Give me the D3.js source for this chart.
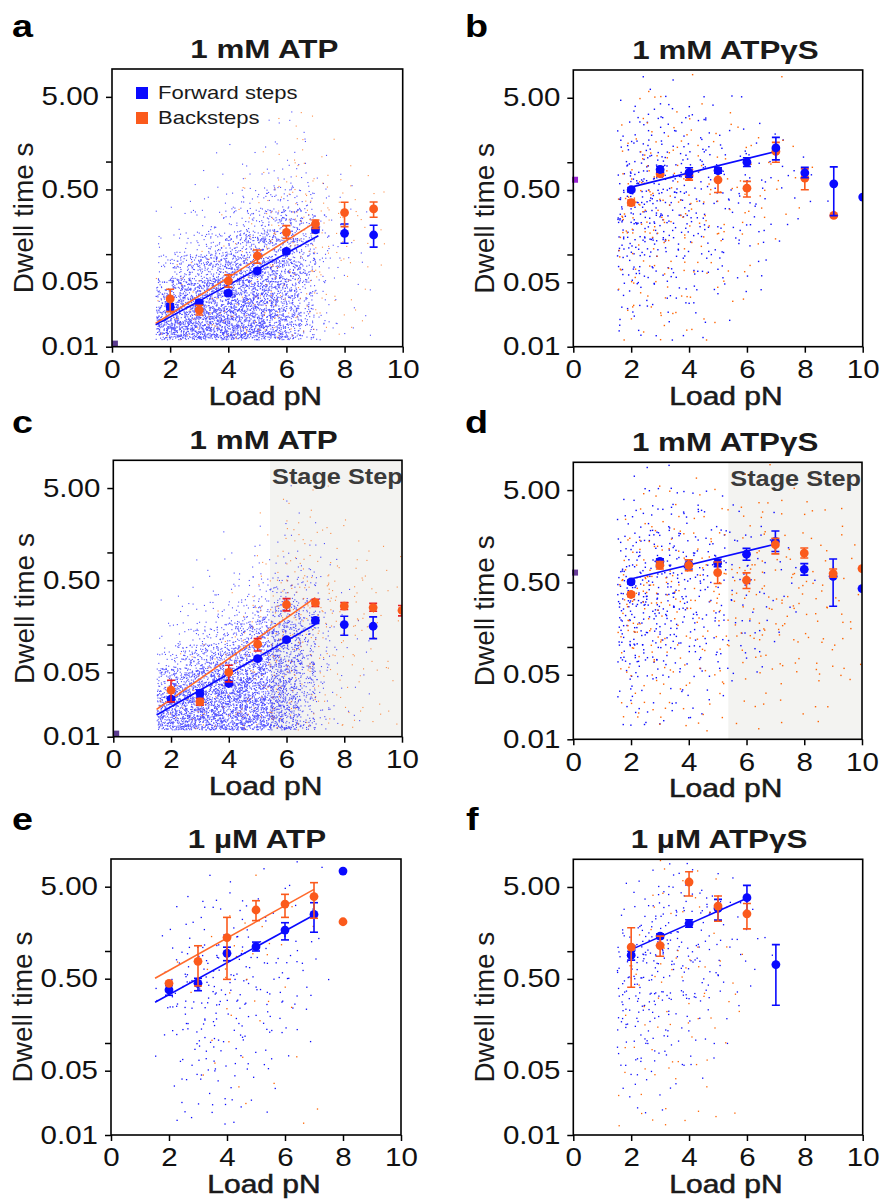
<!DOCTYPE html>
<html><head><meta charset="utf-8">
<script src="https://cdn.jsdelivr.net/npm/d3@7"></script>
<style>
body{margin:0;background:#fff;}
svg{display:block;}
text{font-family:"Liberation Sans",Arial,Helvetica,sans-serif;}
</style></head><body>
<svg id="chart" width="880" height="1199"></svg>
<script>
// ---------------- DATA ----------------
const xTicks = [0, 2, 4, 6, 8, 10];
const yTicks = [0.01, 0.05, 0.1, 0.5, 1, 5];
const yTickLabels = ["0.01", "0.05", "", "0.50", "", "5.00"];
const panelTitles = ["1 mM ATP", "1 mM ATPγS", "1 mM ATP", "1 mM ATPγS", "1 µM ATP", "1 µM ATPγS"];
const seriesNames = ["Forward steps", "Backsteps"];

// density-grid bins used for the raw dwell-time clouds (counts per bin)
const binX = [1.5, 2, 2.5, 3, 3.5, 4, 4.5, 5, 5.5, 6, 6.5, 7, 7.5, 8, 8.5, 9, 9.5, 10];
const binY = [0.012, 0.018, 0.032, 0.056, 0.1, 0.18, 0.32, 0.56, 1, 1.8, 3.2, 5.6, 10];

// ---- panel a : 1 mM ATP
const aLoad = [2, 3, 4, 5, 6, 7, 8, 9];
const aFwd = [0.027, 0.030, 0.038, 0.066, 0.107, 0.183, 0.168, 0.161];
const aFwdLo = [0.025, 0.028, 0.036, 0.062, 0.102, 0.172, 0.131, 0.119];
const aFwdHi = [0.029, 0.032, 0.040, 0.070, 0.112, 0.195, 0.212, 0.205];
const aBack = [0.0328, 0.0249, 0.0513, 0.0957, 0.172, 0.212, 0.281, 0.308];
const aBackLo = [0.0239, 0.022, 0.044, 0.0796, 0.148, 0.19, 0.198, 0.25];
const aBackHi = [0.0417, 0.028, 0.0597, 0.111, 0.203, 0.234, 0.363, 0.366];
const aFitFwd = [[1.5, 0.0172], [7.1, 0.158]];
const aFitBack = [[1.5, 0.0178], [7.1, 0.232]];
const aCloudFwd = [
  [85,105,105,105,105,105,98,90,76,48,20,5,2,1,1,0,0],
  [105,135,135,135,135,135,126,118,98,62,28,7,2,1,1,0,0],
  [55,90,98,105,112,112,112,105,90,62,30,7,2,1,1,0,0],
  [13,34,48,62,76,84,90,90,84,66,36,8,3,1,1,0,0],
  [4,8,12,19,30,44,58,66,72,58,34,8,2,1,1,0,0],
  [1,2,4,5,8,13,20,30,40,38,22,6,2,1,1,0,0],
  [0,1,1,2,3,5,7,11,15,15,10,3,1,1,0,0,0],
  [0,0,1,1,1,2,2,3,4,5,4,2,1,0,0,0,0],
  [0,0,0,0,1,1,1,1,2,2,2,1,0,0,0,0,0],
  [0,0,0,0,0,0,0,1,1,1,1,0,0,0,0,0,0],
  [0,0,0,0,0,0,0,0,0,1,0,0,0,0,0,0,0],
  [0,0,0,0,0,0,0,0,0,0,0,0,0,0,0,0,0]];
const aCloudBack = [
  [2,2,2,2,3,3,3,3,3,2,2,1,1,1,0,0,0],
  [2,3,3,3,3,3,4,4,4,3,3,2,1,1,1,0,0],
  [1,2,2,2,2,3,3,4,4,4,3,2,2,1,1,0,0],
  [0,1,1,1,2,2,3,4,5,5,4,3,2,2,1,1,0],
  [0,0,0,1,1,2,3,4,5,6,5,4,3,2,1,1,0],
  [0,0,0,0,1,1,2,3,4,6,6,4,3,2,2,1,0],
  [0,0,0,0,0,1,1,2,3,4,4,3,2,2,1,1,0],
  [0,0,0,0,0,0,1,1,2,3,3,2,1,1,1,0,0],
  [0,0,0,0,0,0,0,1,1,2,2,1,1,0,0,0,0],
  [0,0,0,0,0,0,0,0,1,1,1,0,0,0,0,0,0],
  [0,0,0,0,0,0,0,0,0,1,0,0,0,0,0,0,0],
  [0,0,0,0,0,0,0,0,0,0,0,0,0,0,0,0,0]];

// ---- panel b : 1 mM ATPγS
const bLoadFwd = [2, 3, 4, 5, 6, 7, 8, 9, 10];
const bFwd = [0.503, 0.834, 0.774, 0.813, 1.0, 1.43, 0.768, 0.584, 0.419];
const bFwdLo = [0.48, 0.78, 0.69, 0.76, 0.9, 1.06, 0.68, 0.264, 0.419];
const bFwdHi = [0.53, 0.9, 0.87, 0.87, 1.12, 1.86, 0.88, 0.89, 0.419];
const bLoadBack = [2, 3, 4, 5, 6, 7, 8, 9];
const bBack = [0.364, 0.75, 0.718, 0.645, 0.523, 1.31, 0.671, 0.265];
const bBackLo = [0.34, 0.7, 0.64, 0.47, 0.42, 1.0, 0.503, 0.265];
const bBackHi = [0.39, 0.8, 0.8, 0.85, 0.62, 1.64, 0.848, 0.265];
const bFitFwd = [[2, 0.537], [7, 1.31]];
const bCloudFwd = [
  [2,2,1,1,1,1,0,0,0,0,0,0,0,0,0,0,0],
  [3,3,2,2,2,2,1,1,0,0,0,0,0,0,0,0,0],
  [4,4,3,3,3,2,2,1,1,1,0,0,0,0,0,0,0],
  [8,8,6,5,4,4,3,3,2,2,1,0,0,0,0,0,0],
  [12,12,10,8,6,5,4,3,3,2,1,1,0,0,0,0,0],
  [14,14,12,10,8,6,5,4,3,2,2,1,1,0,0,0,0],
  [12,14,12,10,8,6,5,4,3,3,2,1,1,1,1,0,0],
  [10,12,10,9,7,6,5,4,3,3,2,2,1,1,0,0,0],
  [6,8,8,7,6,5,4,3,3,2,1,1,1,0,0,0,0],
  [3,4,5,5,4,3,3,2,1,1,1,0,0,0,0,0,0],
  [1,2,3,3,2,2,1,1,1,0,0,0,0,0,0,0,0],
  [0,1,1,1,0,0,0,0,0,0,0,0,0,0,0,0,0]];
const bCloudBack = [
  [1,1,1,1,1,1,1,0,0,0,0,0,0,0,0,0,0],
  [2,2,2,2,1,1,1,1,0,0,0,0,0,0,0,0,0],
  [2,2,2,2,2,1,1,1,1,0,0,0,0,0,0,0,0],
  [3,3,3,3,2,2,2,1,1,1,0,0,0,0,0,0,0],
  [4,4,4,3,3,3,2,2,1,1,1,0,0,0,0,0,0],
  [5,5,4,4,3,3,3,2,2,1,1,1,0,0,0,0,0],
  [4,5,5,4,3,3,3,2,2,2,1,1,1,0,0,0,0],
  [3,4,4,3,3,3,2,2,2,1,1,1,1,1,0,0,0],
  [2,3,3,3,2,2,2,1,1,1,1,1,1,0,0,0,0],
  [1,2,2,2,2,1,1,1,1,1,0,0,0,0,0,0,0],
  [0,1,1,1,1,1,0,1,0,0,0,0,0,0,0,0,0],
  [0,0,1,0,0,1,0,0,0,0,0,1,0,0,0,0,0]];

// ---- panel c : 1 mM ATP (stage step)
const cLoadFwd = [2, 3, 4, 5, 6, 7, 8, 9];
const cFwd = [0.0256, 0.0295, 0.0378, 0.0705, 0.113, 0.183, 0.165, 0.158];
const cFwdLo = [0.024, 0.027, 0.036, 0.067, 0.108, 0.17, 0.126, 0.116];
const cFwdHi = [0.027, 0.032, 0.040, 0.074, 0.118, 0.197, 0.203, 0.2];
const cLoadBack = [2, 3, 4, 5, 6, 7, 8, 9, 10];
const cBack = [0.032, 0.0239, 0.0498, 0.101, 0.271, 0.283, 0.262, 0.252, 0.235];
const cBackLo = [0.0239, 0.022, 0.0394, 0.0853, 0.232, 0.26, 0.24, 0.23, 0.205];
const cBackHi = [0.041, 0.026, 0.0597, 0.116, 0.315, 0.31, 0.285, 0.28, 0.265];
const cFitFwd = [[1.5, 0.0172], [7, 0.166]];
const cFitBack = [[1.5, 0.0198], [7, 0.323]];
const cStage = 5.43;
const cCloudFwd = [
  [82,102,105,105,105,105,100,92,78,52,24,6,2,1,1,0,0],
  [100,130,135,135,135,135,126,120,100,66,30,8,2,1,1,0,0],
  [52,88,98,105,112,112,112,106,92,64,32,8,2,1,1,0,0],
  [12,30,48,62,76,84,90,92,84,70,38,9,3,1,1,0,0],
  [4,8,12,19,30,44,58,66,72,60,36,9,2,1,1,0,0],
  [1,2,4,5,8,13,20,30,40,38,22,6,2,1,1,0,0],
  [0,1,1,2,3,5,7,11,15,15,10,3,1,1,0,0,0],
  [0,0,1,1,1,2,2,3,4,5,4,2,1,0,0,0,0],
  [0,0,0,0,1,1,1,1,2,2,2,1,0,0,0,0,0],
  [0,0,0,0,0,0,0,1,1,1,1,0,0,0,0,0,0],
  [0,0,0,0,0,0,0,0,1,1,0,0,0,0,0,0,0],
  [0,0,0,0,0,0,0,0,0,0,0,0,0,0,0,0,0]];
const cCloudBack = [
  [1,1,2,2,2,3,3,3,3,3,3,2,2,2,1,1,1],
  [2,2,2,3,3,3,4,4,4,4,3,3,2,2,2,1,1],
  [1,2,2,2,3,3,4,4,5,5,4,3,3,2,2,1,1],
  [0,1,1,1,2,3,4,5,6,6,5,4,3,3,2,2,1],
  [0,0,0,1,1,2,3,5,6,7,6,5,4,3,3,2,1],
  [0,0,0,0,1,1,2,4,6,7,7,6,5,4,3,2,1],
  [0,0,0,0,0,1,1,3,5,6,6,5,4,3,3,2,1],
  [0,0,0,0,0,0,1,2,3,4,4,3,3,2,2,1,1],
  [0,0,0,0,0,0,0,1,2,3,3,2,2,1,1,1,0],
  [0,0,0,0,0,0,0,1,1,2,2,1,1,1,0,0,0],
  [0,0,0,0,0,0,0,0,1,1,1,1,0,0,0,0,0],
  [0,0,0,0,0,0,0,0,0,0,0,0,0,0,0,0,0]];

// ---- panel d : 1 mM ATPγS (stage step)
const dLoad = [2, 3, 4, 5, 6, 7, 8, 9, 10];
const dFwd = [0.507, 0.847, 0.786, 0.813, 1.01, 1.39, 0.694, 0.583, 0.429];
const dFwdLo = [0.48, 0.79, 0.7, 0.74, 0.87, 1.08, 0.6, 0.276, 0.429];
const dFwdHi = [0.53, 0.9, 0.88, 0.89, 1.17, 1.8, 0.8, 0.898, 0.429];
const dBack = [0.37, 0.767, 0.767, 0.639, 0.528, 1.28, 1.04, 0.623, 0.706];
const dBackLo = [0.35, 0.7, 0.67, 0.486, 0.429, 1.02, 0.92, 0.57, 0.706];
const dBackHi = [0.39, 0.84, 0.88, 0.833, 0.634, 1.5, 1.18, 0.7, 0.706];
const dFitFwd = [[1.95, 0.541], [6.95, 1.29]];
const dStage = 5.37;
const dCloudFwd = [
  [2,2,1,1,1,1,0,0,0,0,0,0,0,0,0,0,0],
  [3,3,2,2,2,2,1,1,0,0,0,0,0,0,0,0,0],
  [4,4,3,3,3,2,2,1,1,1,0,0,0,0,0,0,0],
  [8,8,6,5,4,4,3,3,2,2,1,0,0,0,0,0,0],
  [12,12,10,8,6,5,4,3,3,2,1,1,0,0,0,0,0],
  [14,14,12,10,8,6,5,4,3,2,2,1,1,0,0,0,0],
  [12,14,12,10,8,6,5,4,3,3,2,1,1,1,0,0,0],
  [10,12,10,9,7,6,5,4,3,3,2,2,1,0,0,0,0],
  [6,8,8,7,6,5,4,3,3,2,1,1,0,0,0,0,0],
  [3,4,5,5,4,3,3,2,1,1,1,0,0,0,0,0,0],
  [1,2,3,3,2,2,1,1,1,0,0,0,0,0,0,0,0],
  [0,1,1,1,0,0,0,0,0,0,0,0,0,0,0,0,0]];
const dCloudBack = [
  [1,1,1,1,1,1,1,1,1,1,0,1,0,1,0,0,0],
  [2,2,2,2,1,1,1,1,1,1,1,1,1,1,1,0,0],
  [2,2,2,2,2,1,1,2,1,1,1,1,1,1,1,1,1],
  [3,3,3,3,2,2,2,2,2,2,2,2,2,2,2,1,1],
  [4,4,4,3,3,3,2,3,3,3,3,3,2,2,2,2,1],
  [5,5,4,4,3,3,3,3,3,3,3,3,3,3,2,2,1],
  [4,5,5,4,3,3,3,3,3,3,3,3,3,3,2,2,1],
  [3,4,4,3,3,3,2,3,3,3,3,3,3,2,2,2,1],
  [2,3,3,3,2,2,2,2,2,2,2,2,2,2,2,1,1],
  [1,2,2,2,2,1,1,1,1,2,2,1,1,1,1,1,0],
  [0,1,1,1,1,1,1,1,1,1,1,1,1,1,0,1,0],
  [0,0,1,0,0,1,0,0,1,0,1,0,0,1,0,0,0]];

// ---- panel e : 1 µM ATP
const eLoad = [2, 3, 4, 5, 6, 7, 8];
const eFwd = [0.377, 0.445, 0.944, 1.115, 1.69, 2.5, 7.4];
const eFwdLo = [0.33, 0.37, 0.785, 1.0, 1.32, 1.6, 7.4];
const eFwdHi = [0.42, 0.505, 1.1, 1.25, 2.03, 3.35, 7.4];
const eBack = [0.445, 0.772, 1.4, 2.79, 3.24, 3.9, 2.08];
const eBackLo = [0.445, 0.417, 0.492, 2.14, 2.32, 2.27, 2.08];
const eBackHi = [0.445, 1.14, 2.32, 3.52, 4.13, 5.53, 2.08];
const eFitFwd = [[1.52, 0.277], [7, 2.46]];
const eFitBack = [[1.52, 0.505], [7, 4.68]];
const eCloudFwd = [
  [0,1,1,1,1,1,0,0,0,0,0,0,0,0,0,0,0],
  [0,1,2,2,2,2,1,1,0,0,0,0,0,0,0,0,0],
  [0,2,2,3,3,2,2,1,1,0,0,0,0,0,0,0,0],
  [1,2,3,4,4,3,2,2,1,1,0,0,0,0,0,0,0],
  [1,3,4,5,5,4,3,3,2,2,1,0,0,0,0,0,0],
  [2,4,5,6,6,5,4,3,3,2,1,0,0,0,0,0,0],
  [2,4,5,6,6,5,5,4,3,3,2,1,0,0,0,0,0],
  [1,3,4,5,5,4,4,3,3,3,2,1,0,0,0,0,0],
  [1,2,3,3,3,3,3,2,2,2,1,1,0,0,0,0,0],
  [0,1,2,2,2,2,2,2,1,1,1,0,0,0,0,0,0],
  [0,0,1,1,1,1,1,1,1,1,0,0,0,0,0,0,0],
  [0,0,0,1,0,1,0,1,0,1,0,1,0,0,0,0,0]];
const eCloudBack = [
  [0,0,0,0,0,0,0,0,0,0,1,0,0,0,0,0,0],
  [0,0,0,0,0,0,1,0,0,0,0,1,0,0,0,0,0],
  [0,0,0,1,0,1,0,0,1,0,0,0,0,0,0,0,0],
  [0,0,0,0,1,0,1,0,0,1,0,0,0,0,0,0,0],
  [0,0,0,1,0,1,0,1,0,0,0,0,0,0,0,0,0],
  [0,0,0,0,1,1,1,1,0,1,0,0,0,0,0,0,0],
  [0,0,1,0,1,1,1,0,1,0,0,0,0,0,0,0,0],
  [0,1,0,1,1,1,1,1,0,0,0,0,0,0,0,0,0],
  [0,0,0,1,0,1,1,1,1,0,0,0,0,0,0,0,0],
  [0,0,0,0,0,1,1,1,0,1,1,0,0,0,0,0,0],
  [0,0,0,0,0,0,0,0,0,0,0,0,0,0,0,0,0],
  [0,0,0,0,0,0,1,0,0,0,0,0,0,0,0,0,0]];

// ---- panel f : 1 µM ATPγS
const fLoadFwd = [2, 3, 4, 5, 6, 7];
const fFwd = [0.904, 1.46, 2.0, 2.92, 3.82, 0.716];
const fFwdLo = [0.8, 1.38, 1.82, 2.18, 2.62, 0.258];
const fFwdHi = [1.0, 1.55, 2.2, 3.66, 5.2, 1.18];
const fLoadBack = [2, 3, 4, 5, 6];
const fBack = [1.11, 1.15, 5.66, 3.1, 2.55];
const fBackLo = [0.405, 0.88, 3.98, 2.12, 1.75];
const fBackHi = [1.8, 1.46, 7.33, 3.98, 3.31];
const fFitFwd = [[2, 1.04], [6, 3.76]];
const fCloudFwd = [
  [0,1,0,0,0,0,0,0,0,0,0,0,0,0,0,0,0],
  [1,1,1,1,0,0,0,0,0,0,0,0,0,0,0,0,0],
  [2,2,2,1,1,1,0,0,0,0,0,0,0,0,0,0,0],
  [4,4,3,3,2,2,1,0,0,0,0,0,0,0,0,0,0],
  [6,6,5,4,3,2,2,1,0,0,0,0,0,0,0,0,0],
  [8,8,7,5,4,3,2,1,1,0,0,0,0,0,0,0,0],
  [10,10,8,6,5,4,3,2,1,1,0,0,0,0,0,0,0],
  [8,10,9,7,6,5,3,2,2,1,1,0,0,0,0,0,0],
  [5,8,8,8,7,5,4,3,2,1,1,0,0,0,0,0,0],
  [2,5,6,6,6,5,4,3,2,1,0,0,0,0,0,0,0],
  [1,2,3,4,4,3,3,2,1,0,0,0,0,0,0,0,0],
  [0,1,1,2,2,1,1,1,0,0,0,0,0,0,0,0,0]];
const fCloudBack = [
  [1,1,1,1,1,0,1,0,1,0,0,0,0,0,0,0,0],
  [1,1,0,1,0,1,0,0,0,0,0,0,0,0,0,0,0],
  [1,1,1,1,1,0,1,0,0,0,0,0,0,0,0,0,0],
  [1,1,1,1,1,1,1,0,0,0,0,0,0,0,0,0,0],
  [0,1,1,1,1,1,1,1,0,0,0,0,0,0,0,0,0],
  [1,1,1,1,1,1,1,1,1,0,0,0,0,0,0,0,0],
  [0,1,1,1,1,1,1,1,1,0,0,0,0,0,0,0,0],
  [1,1,1,1,2,2,1,1,1,0,0,0,0,0,0,0,0],
  [0,1,1,1,1,1,1,1,0,0,0,0,0,0,0,0,0],
  [0,0,1,1,1,1,1,0,0,0,0,0,0,0,0,0,0],
  [0,0,1,1,1,1,1,0,0,0,0,0,0,0,0,0,0],
  [0,0,1,1,1,1,1,0,0,0,0,0,0,0,0,0,0]];

// stray calibration marks near load 0
const markA = [0.1, 0.0108];
const markB = [0.06, 0.646];
const markC = [0.1, 0.0108];
const markD = [0.06, 0.639];

// ---------------- STYLE / LAYOUT ----------------
const BLUE = "#0a0aff", ORANGE = "#fb5a1c", ORANGE_LINE = "#ff6a2c";
const svg = d3.select("#chart");
const defs = svg.append("defs");

function stretch(sel, sx) {
  sel.each(function () {
    const t = d3.select(this);
    const x = +(t.attr("x") || 0);
    t.attr("x", x / sx);
    const tr = t.attr("transform") || "";
    t.attr("transform", (tr + " scale(" + sx + ",1)").trim());
  });
}

const panels = [
  { letter: "a", lx: 12, ly: 36.7, left: 112, right: 402.7, top: 69, bottom: 346.7, tdx: 7, title: panelTitles[0],
    fx: aLoad, f: aFwd, fl: aFwdLo, fh: aFwdHi, bx: aLoad, b: aBack, bl: aBackLo, bh: aBackHi,
    fitF: aFitFwd, fitB: aFitBack, cF: aCloudFwd, cB: aCloudBack, dot: 1.1, dotOp: 0.72, mark: markA, markCol: "#5b3b8f",
    legend: true, blueTop: false, errB: ORANGE },
  { letter: "b", lx: 465, ly: 36.7, left: 573.3, right: 862.7, top: 70, bottom: 346.7, tdx: 7.5, title: panelTitles[1],
    fx: bLoadFwd, f: bFwd, fl: bFwdLo, fh: bFwdHi, bx: bLoadBack, b: bBack, bl: bBackLo, bh: bBackHi,
    fitF: bFitFwd, fitB: null, cF: bCloudFwd, cB: bCloudBack, dot: 1.4, dotOp: 1, mark: markB, markCol: "#9a22d4",
    blueTop: true, errB: ORANGE },
  { letter: "c", lx: 12, ly: 433, left: 113.3, right: 402, top: 460.3, bottom: 736.7, tdx: 6, title: panelTitles[2],
    fx: cLoadFwd, f: cFwd, fl: cFwdLo, fh: cFwdHi, bx: cLoadBack, b: cBack, bl: cBackLo, bh: cBackHi,
    fitF: cFitFwd, fitB: cFitBack, cF: cCloudFwd, cB: cCloudBack, dot: 1.1, dotOp: 0.72, mark: markC, markCol: "#5b3b8f",
    shade: cStage, blueTop: false, errB: "#e8222a" },
  { letter: "d", lx: 465, ly: 433, left: 573.3, right: 862, top: 462.3, bottom: 739.3, tdx: 7.5, title: panelTitles[3],
    fx: dLoad, f: dFwd, fl: dFwdLo, fh: dFwdHi, bx: dLoad, b: dBack, bl: dBackLo, bh: dBackHi,
    fitF: dFitFwd, fitB: null, cF: dCloudFwd, cB: dCloudBack, dot: 1.4, dotOp: 1, mark: markD, markCol: "#6a3d9a",
    shade: dStage, blueTop: false, errB: ORANGE },
  { letter: "e", lx: 12, ly: 830, left: 111, right: 401, top: 859, bottom: 1135, tdx: 1, title: panelTitles[4],
    fx: eLoad, f: eFwd, fl: eFwdLo, fh: eFwdHi, bx: eLoad, b: eBack, bl: eBackLo, bh: eBackHi,
    fitF: eFitFwd, fitB: eFitBack, cF: eCloudFwd, cB: eCloudBack, dot: 1.3, dotOp: 1,
    blueTop: false, errB: ORANGE },
  { letter: "f", lx: 466, ly: 830, left: 573.3, right: 862.7, top: 859.3, bottom: 1135, tdx: 1, title: panelTitles[5],
    fx: fLoadFwd, f: fFwd, fl: fFwdLo, fh: fFwdHi, bx: fLoadBack, b: fBack, bl: fBackLo, bh: fBackHi,
    fitF: fFitFwd, fitB: null, cF: fCloudFwd, cB: fCloudBack, dot: 1.3, dotOp: 1,
    blueTop: false, errB: ORANGE }
];

// deterministic within-bin placement (hash of bin index and dot index)
function hash01(n) { const s = Math.sin(n * 12.9898 + 4.1414) * 43758.5453; return s - Math.floor(s); }

panels.forEach((P, pi) => {
  const x = d3.scaleLinear().domain([0, 10]).range([P.left, P.right]);
  const y = d3.scaleLog().domain([0.01, 10]).range([P.bottom, P.top]);
  const g = svg.append("g");
  const cid = "clip-" + P.letter;
  defs.append("clipPath").attr("id", cid).append("rect")
    .attr("x", P.left).attr("y", P.top).attr("width", P.right - P.left).attr("height", P.bottom - P.top);
  const pg = g.append("g").attr("clip-path", "url(#" + cid + ")");

  if (P.shade != null) {
    pg.append("rect").attr("x", x(P.shade)).attr("y", P.top)
      .attr("width", x(10) - x(P.shade)).attr("height", P.bottom - P.top).attr("fill", "#f3f3f1");
    const st = pg.append("text").attr("x", x(P.shade) + 2).attr("y", P.top + 24)
      .attr("font-size", 22).attr("font-weight", "bold").attr("fill", "#3a3a3a").text("Stage Step");
    stretch(st, 1.15);
  }

  // raw dwell-time clouds (density bins -> dots)
  [[P.cF, BLUE, 0], [P.cB, "#ff6400", 1]].forEach(([grid, col, si]) => {
    const pts = [];
    grid.forEach((row, ri) => {
      row.forEach((n, ci) => {
        const base = ((pi * 2 + si) * 20 + ri) * 40 + ci;
        const ly0 = Math.log10(binY[ri]), ly1 = Math.log10(binY[ri + 1]);
        for (let k = 0; k < n; k++) {
          const u = hash01(base * 131 + k * 1.37);
          const v = hash01(base * 173 + k * 2.71 + 0.5);
          pts.push([binX[ci] + u * (binX[ci + 1] - binX[ci]), Math.pow(10, ly0 + v * (ly1 - ly0))]);
        }
      });
    });
    pg.append("g").attr("fill", col).attr("opacity", P.dotOp)
      .selectAll("rect").data(pts).join("rect")
      .attr("x", d => x(d[0])).attr("y", d => y(d[1]))
      .attr("width", P.dot).attr("height", P.dot);
  });

  // fits
  const line = d3.line().x(d => x(d[0])).y(d => y(d[1]));
  if (P.fitB) pg.append("path").attr("d", line(P.fitB)).attr("fill", "none").attr("stroke", ORANGE_LINE).attr("stroke-width", 1.6);
  if (P.fitF) pg.append("path").attr("d", line(P.fitF)).attr("fill", "none").attr("stroke", BLUE).attr("stroke-width", 1.6);

  // means + error bars
  function series(xs, ys, lo, hi, col, ecol) {
    const sg = pg.append("g");
    const data = xs.map((xv, i) => ({ x: xv, y: ys[i], lo: lo[i], hi: hi[i] }));
    const eb = sg.selectAll("g.eb").data(data.filter(d => d.hi > d.lo)).join("g")
      .attr("stroke", ecol).attr("stroke-width", 1.6).attr("fill", "none");
    eb.append("line").attr("x1", d => x(d.x)).attr("x2", d => x(d.x)).attr("y1", d => y(d.lo)).attr("y2", d => y(d.hi));
    eb.append("line").attr("x1", d => x(d.x) - 4).attr("x2", d => x(d.x) + 4).attr("y1", d => y(d.lo)).attr("y2", d => y(d.lo));
    eb.append("line").attr("x1", d => x(d.x) - 4).attr("x2", d => x(d.x) + 4).attr("y1", d => y(d.hi)).attr("y2", d => y(d.hi));
    sg.selectAll("circle").data(data).join("circle")
      .attr("cx", d => x(d.x)).attr("cy", d => y(d.y)).attr("r", 4.4).attr("fill", col);
  }
  if (P.blueTop) {
    series(P.bx, P.b, P.bl, P.bh, ORANGE, P.errB);
    series(P.fx, P.f, P.fl, P.fh, BLUE, BLUE);
  } else {
    series(P.fx, P.f, P.fl, P.fh, BLUE, BLUE);
    series(P.bx, P.b, P.bl, P.bh, ORANGE, P.errB);
  }

  // stray marks
  if (P.mark) {
    g.append("rect").attr("x", x(P.mark[0]) - 3).attr("y", y(P.mark[1]) - 3)
      .attr("width", 6).attr("height", 6).attr("fill", P.markCol);
  }

  // frame
  g.append("rect").attr("x", P.left).attr("y", P.top).attr("width", P.right - P.left).attr("height", P.bottom - P.top)
    .attr("fill", "none").attr("stroke", "#000").attr("stroke-width", 1.6);

  // axes
  const ax = g.append("g").attr("transform", "translate(0," + P.bottom + ")")
    .call(d3.axisBottom(x).tickValues(xTicks).tickSize(6).tickPadding(7.5).tickFormat(d3.format("d")));
  const ay = g.append("g").attr("transform", "translate(" + P.left + ",0)")
    .call(d3.axisLeft(y).tickValues(yTicks).tickSize(6).tickPadding(7).tickFormat((d, i) => yTickLabels[i]));
  [ax, ay].forEach(a => {
    a.select(".domain").remove();
    a.selectAll(".tick line").attr("stroke", "#000").attr("stroke-width", 1.5);
    a.selectAll(".tick text").attr("font-size", 25).attr("fill", "#111")
      .attr("font-family", '"Liberation Sans", Arial, sans-serif');
    stretch(a.selectAll(".tick text"), 1.18);
  });

  // titles & labels
  const cx = (P.left + P.right) / 2;
  const t = g.append("text").attr("x", cx + P.tdx).attr("y", P.top - 11).attr("text-anchor", "middle")
    .attr("font-size", 25.5).attr("font-weight", "bold").attr("fill", "#1a1a1a").text(P.title);
  stretch(t, 1.23);
  const xl = g.append("text").attr("x", cx + 8).attr("y", P.bottom + 58).attr("text-anchor", "middle")
    .attr("font-size", 25).attr("fill", "#1a1a1a").attr("stroke", "#1a1a1a").attr("stroke-width", 0.5)
    .text("Load pN");
  stretch(xl, 1.2);
  g.append("text").attr("transform", "translate(" + (P.left - 79) + "," + ((P.top + P.bottom) / 2 + 10) + ") rotate(-90)")
    .attr("text-anchor", "middle").attr("font-size", 28).attr("fill", "#1a1a1a").text("Dwell time s");
  const lt = g.append("text").attr("x", P.lx).attr("y", P.ly).attr("font-size", 32).attr("font-weight", "bold")
    .attr("fill", "#000").text(P.letter);
  stretch(lt, 1.18);

  if (P.legend) {
    const lg = g.append("g");
    [[seriesNames[0], BLUE], [seriesNames[1], ORANGE]].forEach(([name, col], i) => {
      lg.append("rect").attr("x", P.left + 24).attr("y", P.top + 18 + i * 25).attr("width", 12).attr("height", 12).attr("fill", col);
      const tx = lg.append("text").attr("x", P.left + 46).attr("y", P.top + 30 + i * 25)
        .attr("font-size", 19).attr("fill", "#1a1a1a").text(name);
      stretch(tx, 1.16);
    });
  }
});
</script>
</body></html>
